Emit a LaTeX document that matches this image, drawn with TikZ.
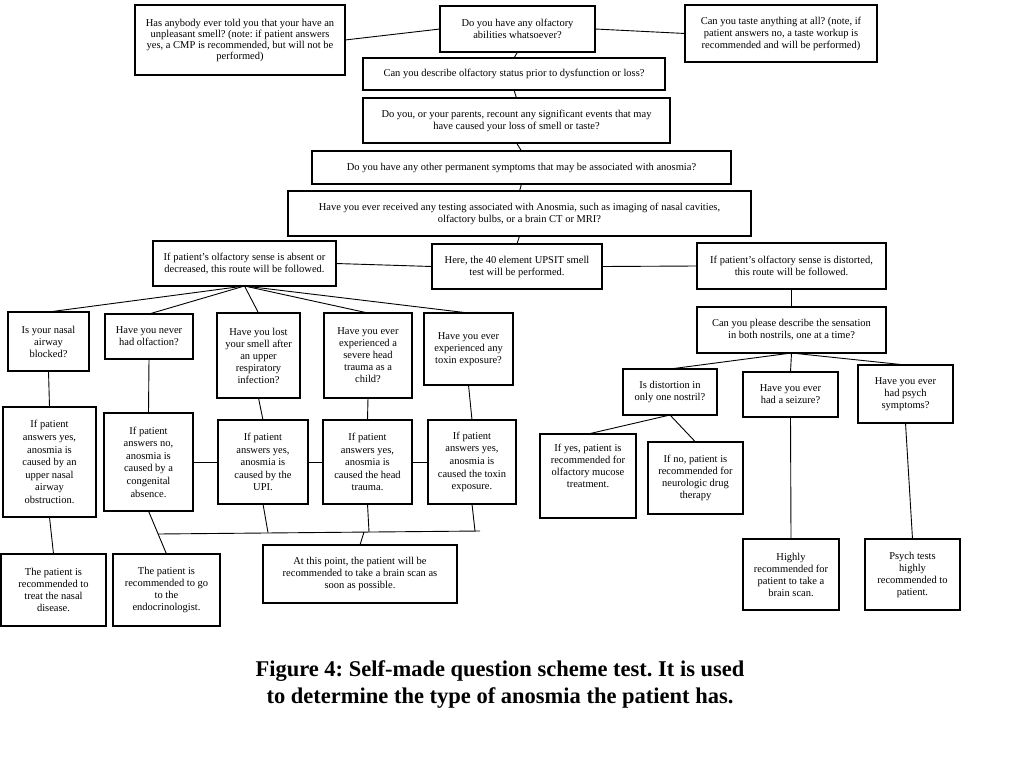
\documentclass[tikz,border=0pt]{standalone}
\usepackage{fontspec}
\setmainfont{Liberation Serif}
\tikzset{
  box/.style={draw, line width=1.5pt, inner sep=1pt, outer sep=0pt, align=center,
    font=\fontsize{10.5}{12}\selectfont},
  link/.style={line width=0.9pt},
  caption/.style={align=center, inner sep=0pt, font=\bfseries\fontsize{22.5}{27}\selectfont}
}
\newcommand{\bx}[7][]{%
  \node[box, minimum width={(#5-#3)*1pt}, minimum height={(#6-#4)*1pt}, #1] (#2)
    at ({(#3+#5)/2},{(#4+#6)/2}) {#7};}
\begin{document}
\frenchspacing
\begin{tikzpicture}[x=1pt,y=-1pt]
\useasboundingbox[fill=white] (0,0) rectangle (1024,768);
% top
\bx[font=\fontsize{10.5}{11}\selectfont]{A}{135}{5}{345}{75}{Has anybody ever told you that your have an\\unpleasant smell? (note: if patient answers\\yes, a CMP is recommended, but will not be\\performed)}
\bx{B}{440}{6}{595}{52}{Do you have any olfactory\\abilities whatsoever?}
\bx{C}{685}{5}{877}{62}{Can you taste anything at all? (note, if\\patient answers no, a taste workup is\\recommended and will be performed)}
\bx{D}{363}{58}{665}{90}{Can you describe olfactory status prior to dysfunction or loss?}
\bx{E}{363}{98}{670}{143}{Do you, or your parents, recount any significant events that may\\have caused your loss of smell or taste?}
\bx{F}{312}{151}{731}{184}{Do you have any other permanent symptoms that may be associated with anosmia?}
\bx{G}{288}{191}{751}{236}{Have you ever received any testing associated with Anosmia, such as imaging of nasal cavities,\\olfactory bulbs, or a brain CT or MRI?}
\bx{H}{153}{241}{336}{286}{If patient’s olfactory sense is absent or\\decreased, this route will be followed.}
\bx{I}{432}{244}{602}{289}{Here, the 40 element UPSIT smell\\test will be performed.}
\bx{J}{697}{243}{886}{289}{If patient’s olfactory sense is distorted,\\this route will be followed.}
\bx{K}{697}{307}{886}{353}{Can you please describe the sensation\\in both nostrils, one at a time?}
% left questions
\bx{Q1}{8}{312}{89}{371}{Is your nasal\\airway\\blocked?}
\bx{Q2}{105}{314}{193}{359}{Have you never\\had olfaction?}
\bx{Q3}{217}{313}{300}{398}{Have you lost\\your smell after\\an upper\\respiratory\\infection?}
\bx{Q4}{324}{313}{412}{398}{Have you ever\\experienced a\\severe head\\trauma as a\\child?}
\bx{Q5}{424}{313}{513}{385}{Have you ever\\experienced any\\toxin exposure?}
% left answers
\bx[font=\fontsize{10.5}{12.6}\selectfont]{R1}{3}{407}{96}{517}{If patient\\answers yes,\\anosmia is\\caused by an\\upper nasal\\airway\\obstruction.}
\bx[font=\fontsize{10.5}{12.6}\selectfont]{R2}{104}{413}{193}{511}{If patient\\answers no,\\anosmia is\\caused by a\\congenital\\absence.}
\bx[font=\fontsize{10.5}{12.6}\selectfont]{R3}{218}{420}{308}{504}{If patient\\answers yes,\\anosmia is\\caused by the\\UPI.}
\bx[font=\fontsize{10.5}{12.6}\selectfont]{R4}{323}{420}{412}{504}{If patient\\answers yes,\\anosmia is\\caused the head\\trauma.}
\bx[font=\fontsize{10.5}{12.6}\selectfont]{R5}{428}{420}{516}{504}{If patient\\answers yes,\\anosmia is\\caused the toxin\\exposure.}
% bottom left
\bx{S1}{1}{554}{106}{626}{The patient is\\recommended to\\treat the nasal\\disease.}
\bx{S2}{113}{554}{220}{626}{The patient is\\recommended to go\\to the\\endocrinologist.}
\bx{S3}{263}{545}{457}{603}{At this point, the patient will be\\recommended to take a brain scan as\\soon as possible.}
% right side
\bx{L1}{623}{369}{717}{415}{Is distortion in\\only one nostril?}
\bx{L2}{743}{372}{838}{417}{Have you ever\\had a seizure?}
\bx{L3}{858}{365}{953}{423}{Have you ever\\had psych\\symptoms?}
\bx{M1}{540}{434}{636}{518}{If yes, patient is\\recommended for\\olfactory mucose\\treatment.\\[8pt]}
\bx{M2}{648}{442}{743}{514}{If no, patient is\\recommended for\\neurologic drug\\therapy}
\bx{N1}{743}{539}{839}{610}{Highly\\recommended for\\patient to take a\\brain scan.}
\bx{N2}{865}{539}{960}{610}{Psych tests\\highly\\recommended to\\patient.}
% caption
\node[caption] (cap) at (500,684) {Figure 4: Self-made question scheme test. It is used\\to determine the type of anosmia the patient has.};
% bar coordinates
\coordinate (bl) at (158,534);
\coordinate (br) at (480,531);
\coordinate (b3) at (268,532.6);
\coordinate (b4) at (369,531.9);
\coordinate (b5) at (475,531.1);
\coordinate (bs) at (364,532);
% connectors
\draw[link] (A.east) -- (B.west);
\draw[link] (B.east) -- (C.west);
\draw[link] (B.south) -- (D.north);
\draw[link] (D.south) -- (E.north);
\draw[link] (E.south) -- (F.north);
\draw[link] (F.south) -- (G.north);
\draw[link] (G.south) -- (I.north);
\draw[link] (H.east) -- (I.west);
\draw[link] (I.east) -- (J.west);
\draw[link] (J.south) -- (K.north);
\foreach \q in {Q1,Q2,Q3,Q4,Q5} \draw[link] (H.south) -- (\q.north);
\draw[link] (Q1.south) -- (R1.north);
\draw[link] (Q2.south) -- (R2.north);
\draw[link] (Q3.south) -- (R3.north);
\draw[link] (Q4.south) -- (R4.north);
\draw[link] (Q5.south) -- (R5.north);
\draw[link] (R2.east) -- (R3.west);
\draw[link] (R3.east) -- (R4.west);
\draw[link] (R4.east) -- (R5.west);
\draw[link] (R1.south) -- (S1.north);
\draw[link] (R2.south) -- (S2.north);
\draw[link] (bl) -- (br);
\draw[link] (R3.south) -- (b3);
\draw[link] (R4.south) -- (b4);
\draw[link] (R5.south) -- (b5);
\draw[link] (bs) -- (S3.north);
\foreach \l in {L1,L2,L3} \draw[link] (K.south) -- (\l.north);
\draw[link] (L1.south) -- (M1.north);
\draw[link] (L1.south) -- (M2.north);
\draw[link] (L2.south) -- (N1.north);
\draw[link] (L3.south) -- (N2.north);
\end{tikzpicture}
\end{document}
